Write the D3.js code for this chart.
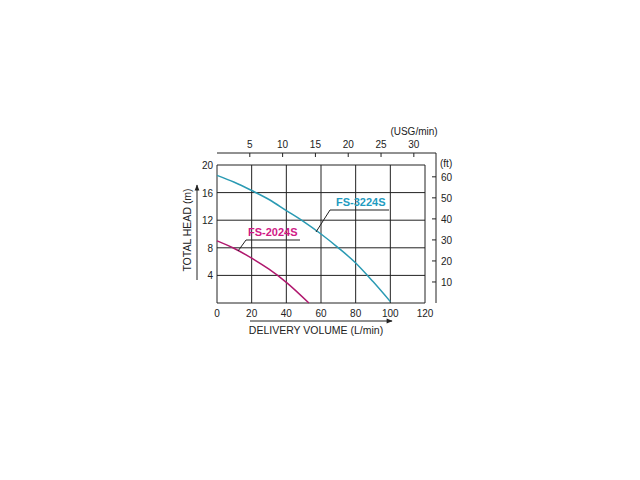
<!DOCTYPE html>
<html><head><meta charset="utf-8">
<script src="https://cdn.jsdelivr.net/npm/d3@7"></script>
<style>body{margin:0;background:#fff}text{font-family:"Liberation Sans",Arial,sans-serif;fill:#222}</style>
</head><body><svg id="c" width="640" height="480"></svg>
<script>
const flowTicks = [0, 20, 40, 60, 80, 100, 120];
const headTicks = [4, 8, 12, 16, 20];
const usgTicks = [5, 10, 15, 20, 25, 30];
const ftTicks = [10, 20, 30, 40, 50, 60];
const fs3224Flow = [0, 10, 20, 30, 40, 50, 60, 70, 80, 90, 100];
const fs3224Head = [18.5, 17.5, 16.3, 15, 13.4, 11.8, 10, 8, 5.8, 3.1, 0.2];
const fs2024Flow = [0, 10, 20, 30, 40, 53];
const fs2024Head = [9, 7.9, 6.5, 4.9, 3, 0];

const svg = d3.select('#c');
const x = d3.scaleLinear().domain([0, 120]).range([217, 425]);
const y = d3.scaleLinear().domain([0, 20]).range([303, 165]);
const lpm = 3.78541, mft = 0.3048;
const grid = svg.append('g').attr('stroke', '#222').attr('stroke-width', 1);

flowTicks.forEach(v => grid.append('line').attr('x1', x(v)).attr('x2', x(v)).attr('y1', y(0)).attr('y2', y(20)));
[0].concat(headTicks).forEach(v => grid.append('line').attr('x1', x(0)).attr('x2', x(120)).attr('y1', y(v)).attr('y2', y(v)));

// top USG axis
const topY = 153;
grid.append('line').attr('x1', x(0)).attr('x2', 436).attr('y1', topY).attr('y2', topY);
usgTicks.forEach(v => {
  grid.append('line').attr('x1', x(v * lpm)).attr('x2', x(v * lpm)).attr('y1', topY).attr('y2', topY + 4);
  svg.append('text').attr('x', x(v * lpm)).attr('y', topY - 5).attr('text-anchor', 'middle').attr('font-size', 10).text(v);
});
svg.append('text').attr('x', 414).attr('y', 135).attr('text-anchor', 'middle').attr('font-size', 10).text('(USG/min)');

// right ft axis
const rightX = 436;
grid.append('line').attr('x1', rightX).attr('x2', rightX).attr('y1', topY).attr('y2', y(0));
ftTicks.forEach(v => {
  grid.append('line').attr('x1', rightX - 4).attr('x2', rightX).attr('y1', y(v * mft)).attr('y2', y(v * mft));
  svg.append('text').attr('x', rightX + 5).attr('y', y(v * mft) + 4).attr('font-size', 10).text(v);
});
svg.append('text').attr('x', rightX + 4).attr('y', 167).attr('font-size', 10).text('(ft)');

flowTicks.forEach(v => svg.append('text').attr('x', x(v)).attr('y', y(0) + 14).attr('text-anchor', 'middle').attr('font-size', 10).text(v));
headTicks.forEach(v => svg.append('text').attr('x', x(0) - 4).attr('y', y(v) + 4).attr('text-anchor', 'end').attr('font-size', 10).text(v));

// axis titles with arrows
svg.append('defs').append('marker').attr('id', 'ar').attr('viewBox', '0 0 10 10').attr('refX', 9).attr('refY', 5)
  .attr('markerWidth', 8).attr('markerHeight', 6).attr('orient', 'auto')
  .append('path').attr('d', 'M0,1L10,5L0,9Z').attr('fill', '#222');
svg.append('line').attr('x1', 250).attr('x2', 392).attr('y1', 321).attr('y2', 321).attr('stroke', '#222').attr('marker-end', 'url(#ar)');
svg.append('text').attr('x', 316).attr('y', 334).attr('text-anchor', 'middle').attr('font-size', 10.5).text('DELIVERY VOLUME (L/min)');
svg.append('line').attr('x1', 197).attr('x2', 197).attr('y1', 280).attr('y2', 185).attr('stroke', '#222').attr('marker-end', 'url(#ar)');
svg.append('text').attr('transform', 'translate(191,230) rotate(-90)').attr('text-anchor', 'middle').attr('font-size', 10.5).text('TOTAL  HEAD (m)');

const line = d3.line().x(d => x(d[0])).y(d => y(d[1])).curve(d3.curveMonotoneX);
svg.append('path').attr('d', line(d3.zip(fs3224Flow, fs3224Head))).attr('fill', 'none').attr('stroke', '#2a9ab3').attr('stroke-width', 1.5);
svg.append('path').attr('d', line(d3.zip(fs2024Flow, fs2024Head))).attr('fill', 'none').attr('stroke', '#b0186e').attr('stroke-width', 1.5);

// labels with leaders
svg.append('text').attr('x', 336).attr('y', 206).attr('font-size', 11).attr('font-weight', 'bold').style('fill', '#1f9bc0').text('FS-3224S');
svg.append('polyline').attr('points', [[316, 232], [330, 210], [389, 210]].join(' ')).attr('fill', 'none').attr('stroke', '#222');
svg.append('text').attr('x', 248).attr('y', 236).attr('font-size', 11).attr('font-weight', 'bold').style('fill', '#d01a86').text('FS-2024S');
svg.append('polyline').attr('points', [[238, 251], [246, 240], [300, 240]].join(' ')).attr('fill', 'none').attr('stroke', '#222');
</script></body></html>
